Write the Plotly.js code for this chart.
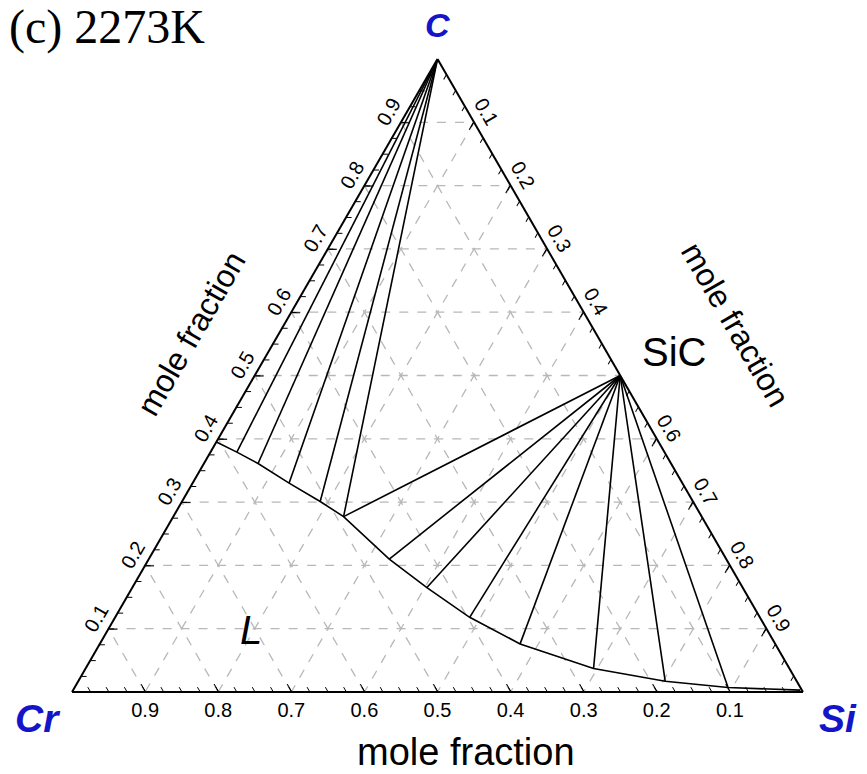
<!DOCTYPE html>
<html>
<head>
<meta charset="utf-8">
<script src="https://cdn.plot.ly/plotly-3.0.1.min.js"></script>
<style>html,body{margin:0;padding:0;background:#fff;}#chart{width:867px;height:774px;}</style>
</head>
<body>
<div id="chart"></div>
<script>
// ---- data (mole fractions) ----
// Liquid (L) boundary, from the C-Cr edge to the Si corner
const liqC  = [0.395, 0.379, 0.361, 0.330, 0.301, 0.277, 0.210, 0.165, 0.118, 0.076, 0.037, 0.017, 0.007, 0.003];
const liqSi = [0.000, 0.036, 0.074, 0.132, 0.189, 0.233, 0.329, 0.403, 0.485, 0.575, 0.695, 0.803, 0.894, 0.995];
// C + L tie lines: liquid ends
const cTieC  = [0.379, 0.361, 0.330, 0.301, 0.277];
const cTieSi = [0.036, 0.074, 0.132, 0.189, 0.233];
// SiC + L tie lines: liquid ends
const sicTieC  = [0.277, 0.210, 0.165, 0.118, 0.076, 0.037, 0.017, 0.007];
const sicTieSi = [0.233, 0.329, 0.403, 0.485, 0.575, 0.695, 0.803, 0.894];
// SiC compound
const sicC = 0.5, sicSi = 0.5;
// tick labels
const majorTicks = [0.1, 0.2, 0.3, 0.4, 0.5, 0.6, 0.7, 0.8, 0.9];
const majorText  = ['0.1','0.2','0.3','0.4','0.5','0.6','0.7','0.8','0.9'];
const cText      = ['0.1','0.2','0.3','0.4','','0.6','0.7','0.8','0.9'];
const minorTicks = [];
for (let i = 1; i < 40; i++) minorTicks.push(+(i * 0.025).toFixed(3));

const cr = (c, s) => +(1 - c - s).toFixed(4);
const line = {color: '#000', width: 1.6};
const traces = [];

traces.push({type: 'scatterternary', mode: 'lines', subplot: 'ternary',
  a: liqC, b: liqC.map((v, i) => cr(v, liqSi[i])), c: liqSi,
  line: line, hoverinfo: 'skip', showlegend: false});

cTieC.forEach((v, i) => {
  traces.push({type: 'scatterternary', mode: 'lines', subplot: 'ternary',
    a: [1, v], b: [0, cr(v, cTieSi[i])], c: [0, cTieSi[i]],
    line: line, hoverinfo: 'skip', showlegend: false});
});
sicTieC.forEach((v, i) => {
  traces.push({type: 'scatterternary', mode: 'lines', subplot: 'ternary',
    a: [sicC, v], b: [cr(sicC, sicSi), cr(v, sicTieSi[i])], c: [sicSi, sicTieSi[i]],
    line: line, hoverinfo: 'skip', showlegend: false});
});
// empty trace to host the minor-tick subplot
traces.push({type: 'scatterternary', mode: 'markers', subplot: 'ternary2', a: [], b: [], c: [], showlegend: false});

const tickFont = {family: 'Liberation Sans, Arial, sans-serif', size: 20, color: '#000'};
function majorAxis(text, angle) {
  return {title: {text: ''}, tickmode: 'array', tickvals: majorTicks, ticktext: text,
    tickangle: angle, tickfont: tickFont, ticks: 'inside', ticklen: 8, tickcolor: '#000', tickwidth: 1,
    showline: true, linecolor: '#000', linewidth: 2,
    showgrid: true, gridcolor: '#b8b8b8', griddash: 'dash', gridwidth: 1.3, layer: 'below traces'};
}
function minorAxis() {
  return {title: {text: ''}, tickmode: 'array', tickvals: minorTicks, showticklabels: false,
    ticks: 'inside', ticklen: 5, tickcolor: '#000', tickwidth: 1,
    showline: false, showgrid: false};
}

const W = 731, H = 633, L0 = 72, T0 = 59;
const px = x => (x - L0) / W;
const py = y => (T0 + H - y) / H;
const sans = 'Liberation Sans, Arial, sans-serif';
const blue = '#1414c8';

const annotations = [
  {text: '(c) 2273K', x: px(7), y: py(27), xanchor: 'left', yanchor: 'middle',
   font: {family: 'Liberation Serif, Times New Roman, serif', size: 48, color: '#000'}},
  {text: '<b><i>C</i></b>', x: px(437), y: py(25), font: {family: sans, size: 34, color: blue}},
  {text: '<b><i>Cr</i></b>', x: px(37), y: py(718), font: {family: sans, size: 39, color: blue}},
  {text: '<b><i>Si</i></b>', x: px(838), y: py(718), font: {family: sans, size: 39, color: blue}},
  {text: 'SiC', x: px(674), y: py(352), font: {family: sans, size: 40, color: '#000'}},
  {text: '<i>L</i>', x: px(251), y: py(630), font: {family: sans, size: 40, color: '#000'}},
  {text: 'mole fraction', x: px(466), y: py(752), font: {family: sans, size: 38, color: '#000'}},
  {text: 'mole fraction', x: px(191), y: py(334), textangle: -60, font: {family: sans, size: 32, color: '#000'}},
  {text: 'mole fraction', x: px(735), y: py(324), textangle: 60, font: {family: sans, size: 32, color: '#000'}}
].map(a => Object.assign({xref: 'paper', yref: 'paper', showarrow: false, xanchor: 'center', yanchor: 'middle'}, a));

const layout = {
  width: 867, height: 774,
  margin: {l: L0, r: 867 - L0 - W, t: T0, b: 774 - T0 - H, pad: 0},
  paper_bgcolor: '#fff',
  showlegend: false,
  ternary: {domain: {x: [0, 1], y: [0, 1]}, sum: 1, bgcolor: '#fff',
    aaxis: majorAxis(majorText, -60), baxis: majorAxis(majorText, 0), caxis: majorAxis(cText, 60)},
  ternary2: {domain: {x: [0, 1], y: [0, 1]}, sum: 1, bgcolor: 'rgba(0,0,0,0)',
    aaxis: minorAxis(), baxis: minorAxis(), caxis: minorAxis()},
  annotations: annotations
};

Plotly.newPlot('chart', traces, layout, {displayModeBar: false, staticPlot: true});
</script>
</body>
</html>
